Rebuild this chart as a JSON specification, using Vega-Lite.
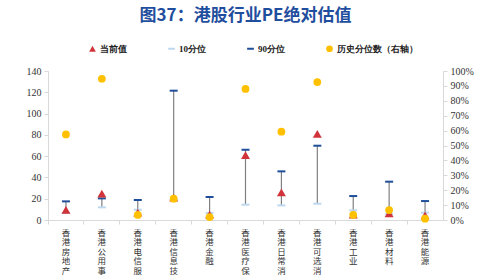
{
  "$schema": "https://vega.github.io/schema/vega-lite/v6.json",
  "width": 395,
  "height": 149,
  "autosize": {"type": "none"},
  "padding": {"left": 48, "top": 71, "right": 41, "bottom": 55},
  "background": "white",
  "title": {
    "text": "图37：港股行业PE绝对估值",
    "font": "Noto Sans CJK SC",
    "fontSize": 17,
    "fontWeight": "bold",
    "color": "#1F4E9E",
    "anchor": "middle",
    "offset": 19
  },
  "data": {
    "values": [
      {"cat": "香港房地产", "p90": 17.5, "p10": 6.6, "cur": 9.5, "pct": 0.574},
      {"cat": "香港公用事业", "p90": 20.3, "p10": 11.9, "cur": 24.7, "pct": 0.948},
      {"cat": "香港电信服务", "p90": 18.8, "p10": 9.7, "cur": 7, "pct": 0.034},
      {"cat": "香港信息技术", "p90": 121.5, "p10": 19.5, "cur": 21, "pct": 0.143},
      {"cat": "香港金融", "p90": 21.6, "p10": 6.6, "cur": 5, "pct": 0.02},
      {"cat": "香港医疗保健", "p90": 66, "p10": 14.4, "cur": 61, "pct": 0.88},
      {"cat": "香港日常消费", "p90": 45.7, "p10": 13.7, "cur": 26, "pct": 0.593},
      {"cat": "香港可选消费", "p90": 69.8, "p10": 15.3, "cur": 81, "pct": 0.926},
      {"cat": "香港工业", "p90": 22.5, "p10": 9, "cur": 5, "pct": 0.034},
      {"cat": "香港材料", "p90": 36, "p10": 5.5, "cur": 6.2, "pct": 0.067},
      {"cat": "香港能源", "p90": 17.8, "p10": 6.9, "cur": 4.3, "pct": 0.009}
    ]
  },
  "config": {
    "view": {"stroke": null},
    "axis": {"grid": false, "domainColor": "#D9D9D9", "tickColor": "#D9D9D9", "labelColor": "#333333", "titleColor": "#333333"},
    "axisY": {"labelOverlap": false, "labelFont": "Liberation Serif", "labelFontSize": 10, "tickSize": 4, "labelPadding": 3}
  },
  "encoding": {
    "x": {
      "field": "cat",
      "type": "nominal",
      "sort": null,
      "scale": {"paddingInner": 0, "paddingOuter": 0},
      "axis": {
        "title": null,
        "labelAngle": 0,
        "labelExpr": "split(datum.label, '')",
        "labelBaseline": "top",
        "labelAlign": "center",
        "labelLineHeight": 9.6,
        "labelFont": "Noto Sans CJK SC",
        "labelFontSize": 8.5,
        "labelColor": "#333333",
        "labelPadding": 4,
        "labelOverlap": false,
        "labelLimit": 0,
        "bandPosition": 0,
        "tickSize": 4
      }
    }
  },
  "layer": [
    {
      "layer": [
        {
          "mark": {"type": "rule", "color": "#808080", "strokeWidth": 1.2},
          "encoding": {
            "y": {"field": "p10", "type": "quantitative", "scale": {"domain": [0, 140]},
              "axis": {"title": null, "values": [0, 20, 40, 60, 80, 100, 120, 140]}},
            "y2": {"field": "p90"}
          }
        },
        {
          "mark": {"type": "tick", "thickness": 2, "size": 8, "opacity": 1},
          "encoding": {
            "y": {"field": "p10", "type": "quantitative",
              "axis": {"title": null, "values": [0, 20, 40, 60, 80, 100, 120, 140]}},
            "color": {"datum": "10分位"}
          }
        },
        {
          "mark": {"type": "tick", "thickness": 2, "size": 8, "opacity": 1},
          "encoding": {
            "y": {"field": "p90", "type": "quantitative",
              "axis": {"title": null, "values": [0, 20, 40, 60, 80, 100, 120, 140]}},
            "color": {"datum": "90分位"}
          }
        },
        {
          "mark": {"type": "point", "filled": true, "size": 80, "opacity": 1},
          "encoding": {
            "y": {"field": "cur", "type": "quantitative",
              "axis": {"title": null, "values": [0, 20, 40, 60, 80, 100, 120, 140]}},
            "color": {"datum": "当前值"},
            "shape": {"datum": "当前值"}
          }
        }
      ]
    },
    {
      "mark": {"type": "point", "filled": true, "size": 60, "opacity": 1},
      "encoding": {
        "y": {"field": "pct", "type": "quantitative", "scale": {"domain": [0, 1]},
          "axis": {"orient": "right", "title": null, "format": ".0%", "values": [0, 0.1, 0.2, 0.3, 0.4, 0.5, 0.6, 0.7, 0.8, 0.9, 1]}},
        "shape": {
          "datum": "历史分位数（右轴）",
          "scale": {
            "domain": ["当前值", "10分位", "90分位", "历史分位数（右轴）"],
            "range": ["triangle-up", "M-1,-0.3L1,-0.3L1,0.3L-1,0.3Z", "M-1,-0.3L1,-0.3L1,0.3L-1,0.3Z", "circle"]
          },
          "legend": null
        },
        "color": {
          "datum": "历史分位数（右轴）",
          "scale": {
            "domain": ["当前值", "10分位", "90分位", "历史分位数（右轴）"],
            "range": ["#D0343A", "#BDD7EE", "#1F4E9A", "#FFC000"]
          },
          "legend": {
            "title": null,
            "orient": "none",
            "legendX": 40,
            "legendY": -27,
            "direction": "horizontal",
            "columns": 4,
            "columnPadding": 40,
            "symbolSize": 45,
            "labelFont": "Liberation Serif",
            "labelFontSize": 9,
            "labelFontWeight": "bold",
            "labelColor": "#222222",
            "labelOffset": 3,
            "encode": {
              "symbols": {
                "update": {
                  "shape": {"signal": "scale('shape', datum.value)"},
                  "fill": {"signal": "scale('color', datum.value)"},
                  "opacity": {"value": 1}
                }
              }
            }
          }
        }
      }
    }
  ],
  "resolve": {"scale": {"y": "independent"}}
}
